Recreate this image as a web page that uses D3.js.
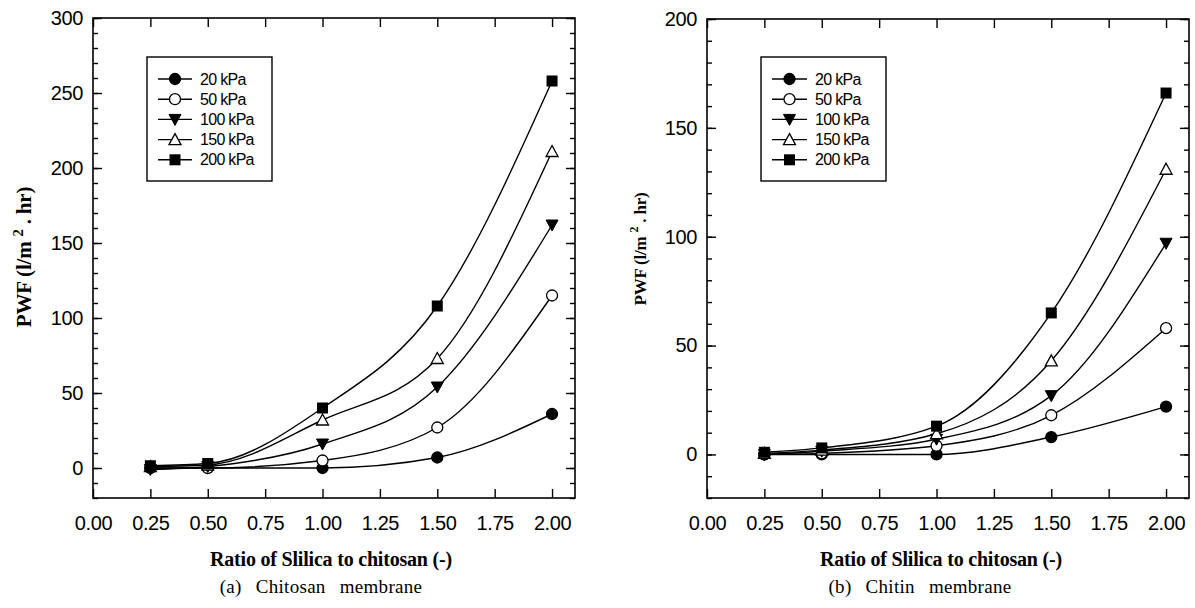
<!DOCTYPE html>
<html>
<head>
<meta charset="utf-8">
<script src="https://cdn.jsdelivr.net/npm/d3@7"></script>
<style>
    body { margin: 0; background: #fff; }
    .tickText { font-family: "Liberation Sans", Arial, sans-serif; font-size: 20px; fill: #000; letter-spacing: -0.4px; }
    .axisTitle { font-family: "Liberation Serif", "Times New Roman", serif; font-size: 20px; font-weight: bold; fill: #000; letter-spacing: -0.2px; }
    .caption { font-family: "Liberation Serif", "Times New Roman", serif; font-size: 19px; fill: #000; word-spacing: 9px; letter-spacing: 0.3px; }
    .legendText { font-family: "Liberation Sans", Arial, sans-serif; font-size: 16px; fill: #000; letter-spacing: -0.7px; }
</style>
</head>
<body>
<div class="chart"></div>
<script>
// ----- DATA ----------------------------------------------------------
const ratios = [0.25, 0.50, 1.00, 1.50, 2.00];
const pressureLabels = ["20 kPa", "50 kPa", "100 kPa", "150 kPa", "200 kPa"];
const xTickValues = [0, 0.25, 0.5, 0.75, 1.0, 1.25, 1.5, 1.75, 2.0];

// (a) chitosan membrane, PWF per pressure
const chitosan20 = [0, 0, 0, 7, 36];
const chitosan50 = [0, 0, 5, 27, 115];
const chitosan100 = [-1, 1, 16, 54, 162];
const chitosan150 = [1, 2, 32, 73, 211];
const chitosan200 = [1.5, 3, 40, 108, 258];
const chitosanYTicks = [0, 50, 100, 150, 200, 250, 300];

// (b) chitin membrane, PWF per pressure
const chitin20 = [0, 0, 0, 8, 22];
const chitin50 = [0, 0.5, 4, 18, 58];
const chitin100 = [0, 1.5, 7, 27, 97];
const chitin150 = [0.5, 2, 9.5, 43, 131];
const chitin200 = [1, 3, 13, 65, 166];
const chitinYTicks = [0, 50, 100, 150, 200];

const W = 1195, H = 608;

let svg = d3.select(".chart").append("svg")
    .attr("width", W)
    .attr("height", H);

// marker drawing: shape index matches pressure index
function _marker( g, shapeIdx, cx, cy )
{
    const r = 5.5;
    if( shapeIdx === 0 || shapeIdx === 1 )
    {
        g.append("circle")
            .attr("cx", cx).attr("cy", cy).attr("r", r)
            .attr("fill", shapeIdx === 0 ? "#000" : "#fff")
            .attr("stroke", "#000").attr("stroke-width", 1.3);
    }
    else if( shapeIdx === 2 )
    {
        g.append("path")
            .attr("d", `M${cx - 6},${cy - 5}L${cx + 6},${cy - 5}L${cx},${cy + 6}Z`)
            .attr("fill", "#000").attr("stroke", "#000").attr("stroke-width", 1);
    }
    else if( shapeIdx === 3 )
    {
        g.append("path")
            .attr("d", `M${cx},${cy - 6}L${cx + 6},${cy + 5}L${cx - 6},${cy + 5}Z`)
            .attr("fill", "#fff").attr("stroke", "#000").attr("stroke-width", 1.3);
    }
    else
    {
        g.append("rect")
            .attr("x", cx - 5.5).attr("y", cy - 5.5)
            .attr("width", 11).attr("height", 11)
            .attr("fill", "#000");
    }
}

function _drawPanel( cfg )
{
    const frame = cfg.frame;

    let x = d3.scaleLinear().domain([0, 2.1]).range([frame.left, frame.right]);
    let y = d3.scaleLinear().domain(cfg.yDomain).range([frame.bottom, frame.top]);

    let g = svg.append("g");

    // minor y ticks every 10
    const minor = d3.range(cfg.yDomain[0], cfg.yDomain[1] + 1, 10);

    g.append("g")
        .attr("transform", `translate(${frame.left},0)`)
        .call(d3.axisLeft(y).tickValues(minor).tickSize(-5).tickFormat(""))
        .call(a => a.select(".domain").remove());
    g.append("g")
        .attr("transform", `translate(${frame.right},0)`)
        .call(d3.axisRight(y).tickValues(minor).tickSize(-5).tickFormat(""))
        .call(a => a.select(".domain").remove());

    // major y ticks with labels
    g.append("g")
        .attr("transform", `translate(${frame.left},0)`)
        .call(d3.axisLeft(y).tickValues(cfg.yTicks).tickSize(-9).tickPadding(10).tickFormat(d3.format("d")))
        .call(a => a.select(".domain").remove())
        .call(a => a.selectAll("text").attr("class", "tickText"));
    g.append("g")
        .attr("transform", `translate(${frame.right},0)`)
        .call(d3.axisRight(y).tickValues(cfg.yTicks).tickSize(-9).tickFormat(""))
        .call(a => a.select(".domain").remove());

    // x ticks bottom and top
    g.append("g")
        .attr("transform", `translate(0,${frame.bottom})`)
        .call(d3.axisBottom(x).tickValues(xTickValues).tickSize(-9).tickPadding(18).tickFormat(d3.format(".2f")))
        .call(a => a.select(".domain").remove())
        .call(a => a.selectAll("text").attr("class", "tickText"));
    g.append("g")
        .attr("transform", `translate(0,${frame.top})`)
        .call(d3.axisTop(x).tickValues(xTickValues).tickSize(-9).tickFormat(""))
        .call(a => a.select(".domain").remove());

    g.selectAll(".tick line").attr("stroke", "#000").attr("stroke-width", 1.4);

    // frame
    g.append("rect")
        .attr("x", frame.left).attr("y", frame.top)
        .attr("width", frame.right - frame.left)
        .attr("height", frame.bottom - frame.top)
        .attr("fill", "none").attr("stroke", "#000").attr("stroke-width", 1.6);

    // curves
    let line = d3.line()
        .x((d, i) => x(ratios[i]))
        .y(d => y(d))
        .curve(d3.curveMonotoneX);

    cfg.series.forEach(s => {
        g.append("path")
            .attr("d", line(s))
            .attr("fill", "none")
            .attr("stroke", "#000")
            .attr("stroke-width", 1.4);
    });
    cfg.series.forEach((s, si) => {
        s.forEach((v, i) => _marker(g, si, x(ratios[i]), y(v)));
    });

    // legend
    const lg = cfg.legend;
    g.append("rect")
        .attr("x", lg.x).attr("y", lg.y)
        .attr("width", lg.w).attr("height", lg.h)
        .attr("fill", "#fff").attr("stroke", "#000").attr("stroke-width", 1.4);

    pressureLabels.forEach((label, i) => {
        const ry = lg.y + 22 + i * 20.2;
        g.append("line")
            .attr("x1", lg.x + lg.lineX1).attr("x2", lg.x + lg.lineX2)
            .attr("y1", ry).attr("y2", ry)
            .attr("stroke", "#000").attr("stroke-width", 1.4);
        _marker(g, i, lg.x + (lg.lineX1 + lg.lineX2) / 2, ry);
        g.append("text")
            .attr("class", "legendText")
            .attr("x", lg.x + lg.textX)
            .attr("y", ry + 5.5)
            .text(label);
    });

    // axis titles
    g.append("text")
        .attr("class", "axisTitle")
        .attr("x", cfg.xTitleX)
        .attr("y", 566)
        .attr("text-anchor", "middle")
        .text("Ratio of Slilica to chitosan (-)");

    let yt = g.append("text")
        .attr("class", "axisTitle")
        .style("font-size", cfg.yTitleSize + "px")
        .attr("transform", `translate(${cfg.yTitleX},${cfg.yTitleY}) rotate(-90)`)
        .attr("text-anchor", "middle");
    yt.append("tspan").text("PWF (l/m ");
    yt.append("tspan").attr("dy", -8).style("font-size", (cfg.yTitleSize * 0.7) + "px").text("2");
    yt.append("tspan").attr("dy", 8).text(" . hr)");

    g.append("text")
        .attr("class", "caption")
        .attr("x", cfg.captionX)
        .attr("y", 593)
        .attr("text-anchor", "middle")
        .text(cfg.caption);
}

_drawPanel({
    frame: { left: 93, right: 575, top: 18, bottom: 498 },
    yDomain: [-20, 300],
    yTicks: chitosanYTicks,
    series: [chitosan20, chitosan50, chitosan100, chitosan150, chitosan200],
    legend: { x: 147, y: 57, w: 125, h: 124, lineX1: 11, lineX2: 45, textX: 53 },
    xTitleX: 331,
    yTitleX: 31,
    yTitleY: 257,
    yTitleSize: 21,
    captionX: 321,
    caption: "(a) Chitosan membrane"
});

_drawPanel({
    frame: { left: 707, right: 1189, top: 19, bottom: 498 },
    yDomain: [-20, 200],
    yTicks: chitinYTicks,
    series: [chitin20, chitin50, chitin100, chitin150, chitin200],
    legend: { x: 761, y: 57, w: 125, h: 124, lineX1: 11, lineX2: 46, textX: 54 },
    xTitleX: 941,
    yTitleX: 646,
    yTitleY: 249,
    yTitleSize: 17,
    captionX: 920,
    caption: "(b) Chitin membrane"
});
</script>
</body>
</html>
